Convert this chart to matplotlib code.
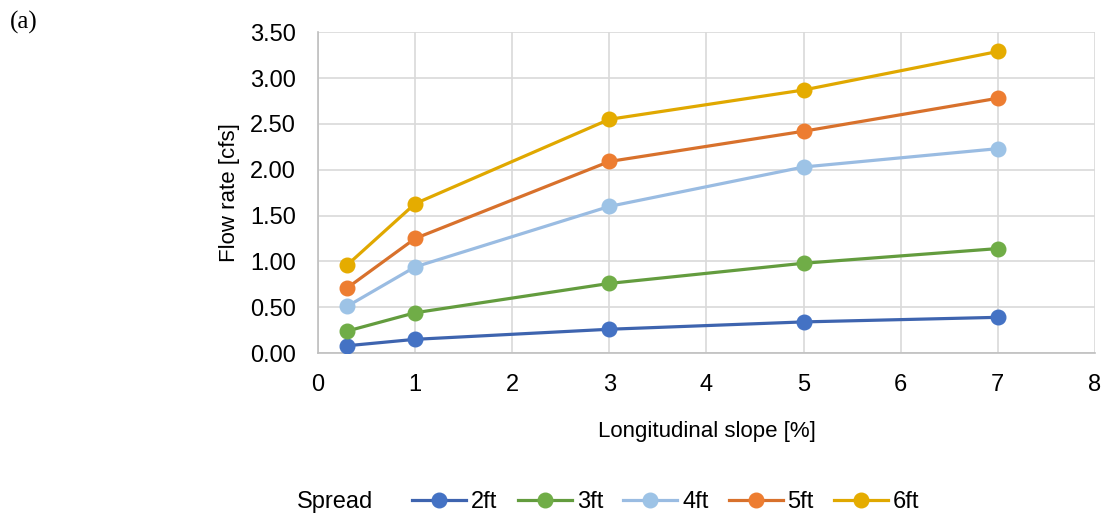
import matplotlib
matplotlib.use("Agg")
import matplotlib.pyplot as plt
from matplotlib.lines import Line2D
from matplotlib.offsetbox import HPacker

slopes = [0.3, 1, 3, 5, 7]
series_names = ["2ft", "3ft", "4ft", "5ft", "6ft"]
flow_2ft = [0.08, 0.15, 0.26, 0.34, 0.39]
flow_3ft = [0.24, 0.44, 0.76, 0.98, 1.14]
flow_4ft = [0.51, 0.94, 1.60, 2.03, 2.23]
flow_5ft = [0.71, 1.25, 2.09, 2.42, 2.78]
flow_6ft = [0.96, 1.63, 2.55, 2.87, 3.29]
colors = ["#4472C4", "#70AD47", "#9DC3E6", "#ED7D31", "#E5AC00"]
line_colors = ["#3E64AF", "#639C3E", "#9ABCE2", "#D8712C", "#E0A800"]
yticks = [0.0, 0.5, 1.0, 1.5, 2.0, 2.5, 3.0, 3.5]
xticks = list(range(0, 9))

plt.rcParams['font.family'] = ['Liberation Sans', 'DejaVu Sans']

fig = plt.figure(figsize=(11.06, 5.2), dpi=100)
ax = fig.add_axes([0.2875, 0.321, 0.7025, 0.617])

all_flows = [flow_2ft, flow_3ft, flow_4ft, flow_5ft, flow_6ft]
handles = []
for name, vals, c, lc in zip(series_names, all_flows, colors, line_colors):
    ax.plot(slopes, vals, color=lc, lw=2.3, marker='o', ms=10.5,
            markerfacecolor=c, markeredgecolor=c, zorder=3)
    handles.append(Line2D([0], [0], color=lc, lw=2.3, marker='o', ms=10.5,
                          markerfacecolor=c, markeredgecolor=c))

ax.set_xlim(0, 8)
ax.set_ylim(0, 3.5)
ax.set_xticks(xticks)
ax.set_yticks(yticks)
ax.set_yticklabels([f"{v:.2f}" for v in yticks])
ax.grid(True, color="#D9D9D9", lw=1.2)
ax.set_axisbelow(True)
for s in ["top", "right"]:
    ax.spines[s].set_visible(False)
for s in ["left", "bottom"]:
    ax.spines[s].set_color("#BFBFBF")
    ax.spines[s].set_linewidth(1.2)
ax.tick_params(length=0, labelsize=17)
ax.tick_params(axis='y', pad=16)
ax.tick_params(axis='x', pad=15)
ax.set_xlabel("Longitudinal slope [%]", fontsize=16, labelpad=18)
ax.set_ylabel("Flow rate [cfs]", fontsize=16, labelpad=7)

leg = fig.legend(handles, series_names, loc="center", bbox_to_anchor=(0.55, 0.035),
                 ncol=5, frameon=False, fontsize=17, title="Spread", title_fontsize=17,
                 handlelength=2.3, columnspacing=0.85, handletextpad=0.2)
title_box = leg._legend_title_box
entries = leg._legend_handle_box
leg._legend_box._children = [HPacker(pad=0, sep=28, children=[title_box, entries], align="center")]

fig.text(0.009, 0.957, "(a)", fontsize=18, family="Liberation Serif", va="center")

fig.savefig("out.png", dpi=100)
